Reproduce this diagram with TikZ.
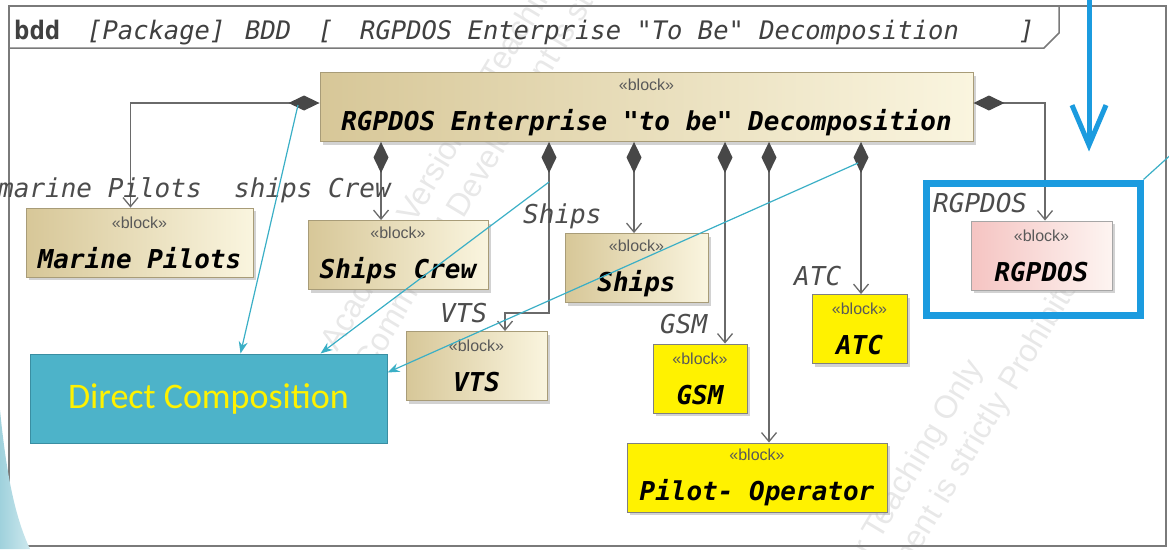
\documentclass[tikz,border=0pt]{standalone}
\usepackage{fontspec}
\setmainfont{Liberation Sans}
\setmonofont{DejaVu Sans Mono}
\newfontfamily\calib{Carlito}
\usetikzlibrary{arrows.meta,shadows,calc}
\definecolor{frameln}{HTML}{7A7A7A}
\definecolor{conn}{HTML}{6A6A6A}
\definecolor{diam}{HTML}{474747}
\definecolor{tanL}{HTML}{D7C798}
\definecolor{tanR}{HTML}{FAF5DF}
\definecolor{tanD}{HTML}{A89C78}
\definecolor{pinkL}{HTML}{F5C4C2}
\definecolor{pinkR}{HTML}{FDF4F1}
\definecolor{hlblue}{HTML}{1B9BDF}
\definecolor{callout}{HTML}{3AAFC6}
\definecolor{dcfill}{HTML}{4DB3C9}
\definecolor{dcedge}{HTML}{3A8EA2}
\definecolor{slideL}{HTML}{9FD1DC}
\definecolor{slideR}{HTML}{CDE8EE}
\newcommand{\stereo}{{\normalfont\fontsize{16}{19}\selectfont\color{black!65}«block»}}

\begin{document}
\begin{tikzpicture}[x=1pt, y=-1pt,
  blkbase/.style={draw=tanD, line width=0.9pt, inner sep=0pt, minimum height=69pt, align=center,
                  font=\ttfamily\bfseries\itshape\fontsize{26}{31}\selectfont,
                  drop shadow={shadow xshift=3pt, shadow yshift=-3pt, fill=black!35}},
  tanblk/.style={blkbase, left color=tanL, right color=tanR},
  yblk/.style={blkbase, fill=yellow, draw=black!50},
  pinkblk/.style={blkbase, left color=pinkL, right color=pinkR, draw=black!35},
  role/.style={font=\ttfamily\itshape\fontsize{26}{31}\selectfont, text=black!70, anchor=base west, inner sep=0pt},
  ttl/.style={font=\ttfamily\fontsize{25.5}{30}\selectfont, text=black!75, anchor=base west, inner sep=0pt},
  wm/.style={font=\fontsize{32}{38}\selectfont, text=black!9, rotate=59, anchor=base west, inner sep=0pt},
  frame/.style={draw=frameln, line width=1.5pt},
  comp/.style={draw=conn, line width=1.3pt,
               {Diamond[length=31pt,width=15pt,color=diam,fill=diam]}-{Straight Barb[length=9pt,width=15pt]}},
  callout/.style={draw=callout, line width=1.2pt, -{Stealth[length=12pt,width=9pt]}},
  dcbox/.style={draw=dcedge, fill=dcfill, line width=1pt, minimum width=357pt, minimum height=89pt,
                inner sep=0pt, font=\calib\fontsize{36}{43}\selectfont, text=yellow}]
\useasboundingbox (0,0) rectangle (1169,549);

\node[wm] (wm1a) at (337,353) {Academic Version for Teaching Only};
\node[wm] (wm1b) at (371,374) {Commercial Development is strictly Prohibited};
\node[wm] (wm2a) at (719,808) {Academic Version for Teaching Only};
\node[wm] (wm2b) at (753,829) {Commercial Development is strictly Prohibited};

\draw[frame] (9,6) rectangle (1166,546);
\draw[frame] (9,48) -- (1044,48) -- (1059,33) -- (1059,6);
\node[ttl] (ttlkind) at (14,39) {\bfseries bdd};
\node[ttl] (ttlpkg) at (87,39) {\itshape [Package]};
\node[ttl] (ttlbdd) at (245,39) {\itshape BDD};
\node[ttl] (ttlopen) at (318,39) {\itshape [};
\node[ttl] (ttlname) at (360,39) {\itshape RGPDOS Enterprise "To Be" Decomposition};
\node[ttl] (ttlclose) at (1019,39) {\itshape ]};

\node[tanblk, minimum width=653pt] (main) at (646.5,107) {\stereo\\[9pt]RGPDOS Enterprise "to be" Decomposition};
\node[tanblk, minimum width=227pt] (marine) at (139.5,242.5) {\stereo\\[9pt]Marine Pilots};
\node[tanblk, minimum width=180pt] (crew) at (398,255) {\stereo\\[9pt]Ships Crew};
\node[tanblk, minimum width=143pt] (ships) at (636.5,268) {\stereo\\[9pt]Ships};
\node[tanblk, minimum width=141pt] (vts) at (476.5,366) {\stereo\\[9pt]VTS};
\node[yblk, minimum width=94pt] (gsm) at (700,378.5) {\stereo\\[9pt]GSM};
\node[yblk, minimum width=95pt] (atc) at (859.5,329) {\stereo\\[9pt]ATC};
\node[yblk, minimum width=260pt] (po) at (757,477.5) {\stereo\\[9pt]Pilot- Operator};
\node[pinkblk, minimum width=141pt] (rg) at (1041.5,255.5) {\stereo\\[9pt]RGPDOS};

\draw[comp] ([yshift=4pt]main.west) -| ([xshift=-9pt]marine.north);
\draw[comp] (381,0 |- main.south) -- (381,0 |- crew.north);
\draw[comp] (549,0 |- main.south) -- (549,313) -| (505,0 |- vts.north);
\draw[comp] (634,0 |- main.south) -- (634,0 |- ships.north);
\draw[comp] (725,0 |- main.south) -- (725,0 |- gsm.north);
\draw[comp] (769,0 |- main.south) -- (769,0 |- po.north);
\draw[comp] (861,0 |- main.south) -- (861,0 |- atc.north);
\draw[comp] ([yshift=4pt]main.east) -| (1045,0 |- rg.north);

\node[role] (lmarine) at (-2,197) {marine Pilots};
\node[role] (lcrew) at (234,197) {ships Crew};
\node[role] (lships) at (523,223) {Ships};
\node[role] (lvts) at (440,322) {VTS};
\node[role] (lgsm) at (660,333) {GSM};
\node[role] (latc) at (794,285) {ATC};
\node[role] (lrg) at (933,212) {RGPDOS};

\node[dcbox] (dc) at (208.5,398.5) {Direct Composition};
\coordinate (cfrom1) at (298,105);
\coordinate (cfrom2) at (549,182);
\coordinate (cfrom3) at (858,163);
\coordinate (cfrom4) at (1175,151);
\draw[callout] (cfrom1) -- ([xshift=32pt]dc.north);
\draw[callout] (cfrom2) -- ([xshift=112pt]dc.north);
\draw[callout] (cfrom3) -- ([yshift=26pt]dc.east);

\node[draw=hlblue, line width=7pt, minimum width=214pt, minimum height=132pt, inner sep=0pt] (hl) at (1033,249) {};
\draw[draw=callout, line width=1.2pt] (hl.north east) -- (cfrom4);
\coordinate (bluetop) at (1089,-5);
\draw[hlblue, line width=5pt, shorten >=28pt, -{Straight Barb[length=40pt,width=34pt]}] (bluetop) -- (bluetop |- hl.north);

\shade[left color=slideL, right color=slideR] (0,410) .. controls (6,470) and (14,515) .. (30,549) -- (0,549) -- cycle;
\end{tikzpicture}
\end{document}
